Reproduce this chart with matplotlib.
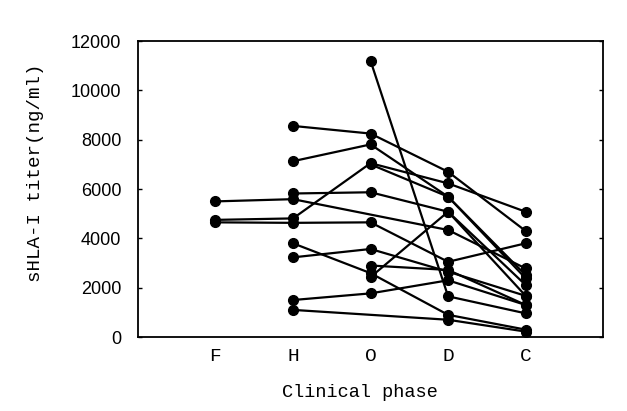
import numpy as np
import matplotlib
matplotlib.use("Agg")
import matplotlib.pyplot as plt

nan = np.nan
phases = ["F", "H", "O", "D", "C"]
# one entry per patient in each phase list (nan = not measured)
F_vals = [5500, 4750, 4650, nan, nan, nan, nan, nan, nan, nan, nan, nan, nan, nan]
H_vals = [5590, 4810, 4630, 8560, 7130, 5820, 3800, 3230, 1500, 1100, nan, nan, nan, nan]
O_vals = [nan, 7050, 4650, 8250, 7810, 5870, 2590, 3570, 1770, nan, 11200, 2430, 2900, 7000]
D_vals = [4340, 6230, 3050, 6700, 5690, 5080, 900, 2650, 2300, 700, 1650, 5080, 2720, 5690]
C_vals = [2780, 5080, 3800, 4300, 2380, 2110, 300, 1670, 1300, 220, 960, 1670, 1300, 2510]
y_ticks = [0, 2000, 4000, 6000, 8000, 10000, 12000]

fig = plt.figure(figsize=(6.27, 4.11), dpi=100)
ax = fig.add_axes([0.220, 0.180, 0.742, 0.720])

table = np.array([F_vals, H_vals, O_vals, D_vals, C_vals], dtype=float)
xs = np.arange(1, len(phases) + 1)
for j in range(table.shape[1]):
    col = table[:, j]
    m = ~np.isnan(col)
    ax.plot(xs[m], col[m], color="black", lw=1.6, marker="o", ms=7,
            mfc="black", mec="black", solid_capstyle="round")

ax.set_xlim(0, 6)
ax.set_ylim(0, 12000)
ax.set_yticks(y_ticks)
ax.set_yticklabels([str(t) for t in y_ticks], fontfamily="Liberation Sans", fontsize=13)
ax.set_xticks(xs)
ax.set_xticklabels(phases, fontfamily="Liberation Mono", fontsize=14)
ax.tick_params(axis="x", length=0, pad=8)
ax.tick_params(axis="y", direction="in", length=3, width=1, right=True, pad=12)
for s in ax.spines.values():
    s.set_linewidth(1.3)

fig.text(360 / 627, 1 - 392 / 411, "Clinical phase", fontfamily="Liberation Mono",
         fontsize=13.4, ha="center", va="center")
fig.text(36 / 627, 1 - 173 / 411, "sHLA-I titer(ng/ml)", fontfamily="Liberation Mono",
         fontsize=13.8, ha="center", va="center", rotation=90)

fig.savefig("out.png", dpi=100)
